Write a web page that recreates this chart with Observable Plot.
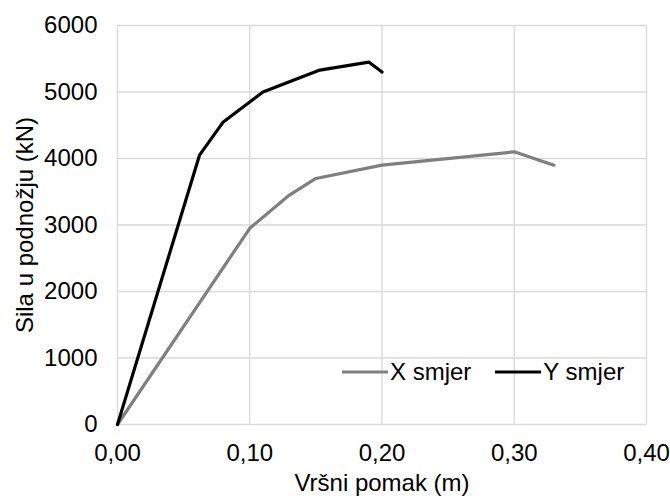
<!DOCTYPE html>
<html>
<head>
<meta charset="utf-8">
<script src="https://cdn.jsdelivr.net/npm/d3@7"></script>
<script src="https://cdn.jsdelivr.net/npm/@observablehq/plot@0.6"></script>
<style>
  html, body { margin: 0; padding: 0; background: #fff; }
  #wrap { position: relative; width: 670px; height: 498px; font-family: "Liberation Sans", Arial, sans-serif; }
  #legend { position: absolute; left: 342px; top: 358px; display: flex; align-items: center; font-size: 24px; color: #000; white-space: nowrap; }
  #legend .item { display: flex; align-items: center; }
  #legend svg { display: block; }
</style>
</head>
<body>
<div id="wrap"></div>
<script>
// Data
const seriesNames = ["X smjer", "Y smjer"];
const seriesColors = ["#7f7f7f", "#000000"];
const xDisp = [0, 0.10, 0.13, 0.15, 0.20, 0.30, 0.33];
const xForce = [0, 2950, 3450, 3700, 3900, 4100, 3900];
const yDisp = [0, 0.062, 0.08, 0.11, 0.153, 0.19, 0.20];
const yForce = [0, 4050, 4550, 5000, 5330, 5450, 5300];
const xTicks = [0, 0.1, 0.2, 0.3, 0.4];
const yTicks = [0, 1000, 2000, 3000, 4000, 5000, 6000];
const xTitle = "Vršni pomak (m)";
const yTitle = "Sila u podnožju (kN)";

const dataX = xDisp.map((d, i) => ({d, f: xForce[i], s: seriesNames[0]}));
const dataY = yDisp.map((d, i) => ({d, f: yForce[i], s: seriesNames[1]}));

const grid = {stroke: "#d9d9d9", strokeOpacity: 1, strokeWidth: 1.3};

const chart = Plot.plot({
  width: 670,
  height: 498,
  marginLeft: 117,
  marginRight: 24,
  marginTop: 25,
  marginBottom: 74,
  style: {fontFamily: "'Liberation Sans', Arial, sans-serif", fontSize: "24px", color: "#000", background: "#fff"},
  x: {domain: [0, 0.4]},
  y: {domain: [0, 6000]},
  marks: [
    Plot.gridX(xTicks, grid),
    Plot.gridY(yTicks, grid),
    Plot.axisX(xTicks, {
      tickSize: 0, tickPadding: 19,
      tickFormat: d => d.toFixed(2).replace(".", ","),
      label: xTitle, labelAnchor: "center", labelOffset: 66, labelArrow: "none"
    }),
    Plot.axisY(yTicks, {
      tickSize: 0, tickPadding: 20,
      tickFormat: d => String(d),
      label: yTitle, labelAnchor: "center", labelOffset: 102, labelArrow: "none"
    }),
    Plot.line(dataX, {x: "d", y: "f", stroke: seriesColors[0], strokeWidth: 3.2}),
    Plot.line(dataY, {x: "d", y: "f", stroke: seriesColors[1], strokeWidth: 3.2})
  ]
});

const wrap = document.getElementById("wrap");
wrap.appendChild(chart);

const legend = document.createElement("div");
legend.id = "legend";
seriesNames.forEach((name, i) => {
  const item = document.createElement("div");
  item.className = "item";
  if (i > 0) item.style.marginLeft = "24px";
  item.innerHTML = `<svg width="46" height="6"><line x1="0" y1="3" x2="46" y2="3" stroke="${seriesColors[i]}" stroke-width="3.2"/></svg><span style="margin-left:2px">${name}</span>`;
  legend.appendChild(item);
});
wrap.appendChild(legend);
</script>
</body>
</html>
